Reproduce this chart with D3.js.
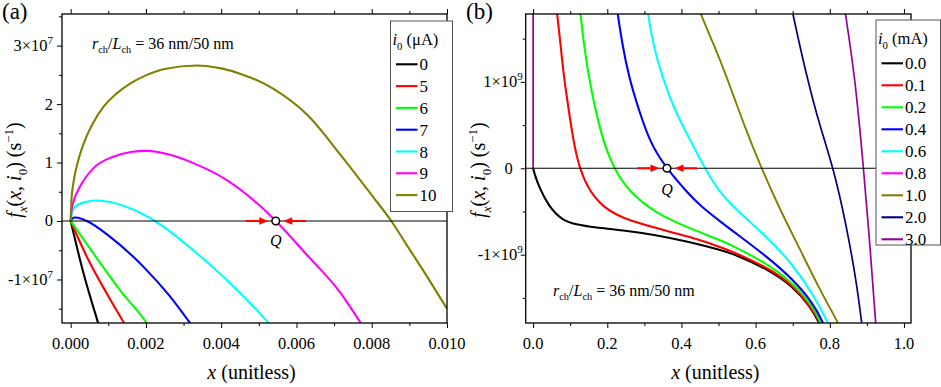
<!DOCTYPE html>
<html>
<head>
<meta charset="utf-8">
<script src="https://cdn.jsdelivr.net/npm/d3@7"></script>
</head>
<body style="margin:0">
<div id="chart"></div>
<script>

// ---- panel (a): x (unitless) vs f_x in units of 1e7 s^-1 ----
const labelsA = ["0", "5", "6", "7", "8", "9", "10"];
const colorsA = ["#000000", "#ff0000", "#00ff00", "#0000ff", "#00ffff", "#ff00ff", "#808000"];

const curveA0  = [[0, 0], [0.00034, -0.89], [0.00073, -1.744], [0.00077, -1.83]];
const curveA5  = [[0, 0], [0.00043, -0.61], [0.00096, -1.24], [0.00142, -1.744], [0.0015, -1.83]];
const curveA6  = [[0, 0], [0.0006, -0.55], [0.00131, -1.18], [0.00202, -1.744], [0.0021, -1.82]];
const curveA7  = [[0, 0], [0.00004, 0.04], [0.00011, 0.06], [0.0002, 0.055], [0.00043, 0], [0.00105, -0.27],
                  [0.00193, -0.78], [0.00264, -1.29], [0.00317, -1.744], [0.0033, -1.86]];
const curveA8  = [[0, 0], [0.00003, 0.13], [0.00011, 0.24], [0.00043, 0.33], [0.00069, 0.35], [0.00149, 0.24],
                  [0.00224, 0], [0.00326, -0.5], [0.00415, -1.01], [0.00503, -1.58], [0.0053, -1.77]];
const curveA9  = [[0, 0], [0.00002, 0.17], [0.00008, 0.34], [0.00025, 0.59], [0.0006, 0.9], [0.00113, 1.10],
                  [0.0016, 1.18], [0.00202, 1.20], [0.0026, 1.14], [0.00326, 0.99], [0.00415, 0.70],
                  [0.00503, 0.26], [0.00545, 0], [0.00628, -0.58], [0.00716, -1.22], [0.00771, -1.744], [0.0078, -1.83]];
const curveA10 = [[0, 0], [0.00002, 0.35], [0.00008, 0.68], [0.0002, 1.03], [0.00038, 1.38], [0.0006, 1.68],
                  [0.00087, 1.95], [0.0012, 2.17], [0.00158, 2.35], [0.002, 2.49], [0.0025, 2.6], [0.00335, 2.66],
                  [0.004, 2.61], [0.0045, 2.52], [0.00539, 2.26], [0.00628, 1.82], [0.00716, 1.14],
                  [0.00805, 0.4], [0.00852, 0], [0.00894, -0.42], [0.00947, -0.95], [0.0100, -1.5]];
const curvesA = [curveA0, curveA5, curveA6, curveA7, curveA8, curveA9, curveA10];

const xTicksA = [0, 0.002, 0.004, 0.006, 0.008, 0.010];
const xMinorA = [0.001, 0.003, 0.005, 0.007, 0.009];
const yTicksA = [-1, 0, 1, 2, 3];
const yTickLabelsA = [["-1×10", "7"], ["0", ""], ["1", ""], ["2", ""], ["3×10", "7"]];
const yMinorA = [-1.5, -0.5, 0.5, 1.5, 2.5, 3.5];
const pointQA = [0.00545, 0];

// ---- panel (b): x (unitless) vs f_x in units of 1e9 s^-1 ----
const labelsB = ["0.0", "0.1", "0.2", "0.4", "0.6", "0.8", "1.0", "2.0", "3.0"];
const colorsB = ["#000000", "#ff0000", "#00ff00", "#0000ff", "#00ffff", "#ff00ff", "#808000", "#000080", "#990099"];

const curveB00 = [[0, 0], [0.005, -0.08], [0.0153, -0.21], [0.042, -0.44], [0.078, -0.60], [0.114, -0.65],
                  [0.168, -0.685], [0.24, -0.715], [0.33, -0.77], [0.42, -0.85], [0.509, -0.95], [0.54, -0.99],
                  [0.63, -1.16], [0.702, -1.37], [0.747, -1.60], [0.772, -1.79], [0.775, -1.85]];
const curveB01 = [[0.063, 1.85], [0.0647, 1.79], [0.0737, 1.445], [0.0827, 1.06], [0.096, 0.674], [0.1096, 0.289],
                  [0.125, 0], [0.15, -0.25], [0.186, -0.44], [0.24, -0.58], [0.33, -0.69], [0.42, -0.79],
                  [0.509, -0.91], [0.63, -1.14], [0.70, -1.35], [0.745, -1.58], [0.775, -1.79], [0.778, -1.85]];
const curveB02 = [[0.126, 1.85], [0.1276, 1.79], [0.1366, 1.445], [0.15, 1.06], [0.168, 0.674], [0.1905, 0.289],
                  [0.2175, 0], [0.258, -0.27], [0.33, -0.52], [0.42, -0.69], [0.509, -0.84], [0.54, -0.90],
                  [0.63, -1.10], [0.702, -1.33], [0.755, -1.60], [0.776, -1.79], [0.779, -1.85]];
const curveB04 = [[0.226, 1.85], [0.228, 1.79], [0.24, 1.445], [0.258, 1.06], [0.285, 0.674], [0.316, 0.289],
                  [0.359, 0], [0.42, -0.30], [0.45, -0.43], [0.509, -0.63], [0.54, -0.73], [0.63, -1.02],
                  [0.702, -1.29], [0.755, -1.56], [0.7825, -1.79], [0.786, -1.85]];
const curveB06 = [[0.308, 1.85], [0.310, 1.79], [0.3226, 1.445], [0.348, 1.06], [0.381, 0.674], [0.428, 0.289],
                  [0.45, 0.11], [0.4636, 0], [0.495, -0.23], [0.54, -0.45], [0.63, -0.79], [0.702, -1.12],
                  [0.755, -1.46], [0.796, -1.79], [0.80, -1.85]];
const curveB08 = [];
const curveB10 = [[0.448, 1.85], [0.451, 1.79], [0.486, 1.445], [0.522, 1.06], [0.567, 0.52], [0.6155, 0],
                  [0.666, -0.48], [0.72, -0.94], [0.7736, -1.41], [0.823, -1.79], [0.827, -1.85]];
const curveB20 = [[0.698, 1.85], [0.700, 1.79], [0.7377, 1.06], [0.7736, 0.48], [0.810, 0], [0.8455, -0.675],
                  [0.8725, -1.33], [0.886, -1.79], [0.888, -1.85]];
const curveB30 = [[0, 1.85], [0, 0], null,
                  [0.840, 1.85], [0.842, 1.79], [0.868, 1.06], [0.891, 0], [0.908, -0.87], [0.9237, -1.79], [0.925, -1.85]];
const curvesB = [curveB00, curveB01, curveB02, curveB04, curveB06, curveB08, curveB10, curveB20, curveB30];

const xTicksB = [0, 0.2, 0.4, 0.6, 0.8, 1.0];
const xMinorB = [0.1, 0.3, 0.5, 0.7, 0.9];
const yTicksB = [-1, 0, 1];
const yTickLabelsB = [["-1×10", "9"], ["0", ""], ["1×10", "9"]];
const yMinorB = [-1.5, -0.5, 0.5, 1.5];
const pointQB = [0.361, 0];

const FONT = '"Liberation Serif"';

const svg = d3.select("#chart").append("svg")
    .attr("width", 941)
    .attr("height", 387);

// every text goes straight onto the svg root, with its face set inline
function addText(x, y, size) {
    return svg.append("text")
        .attr("x", x).attr("y", y)
        .attr("font-size", size)
        .style("font-family", FONT, "important")
        .style("fill", "#000");
}

// small helper for italic / sub / superscript pieces inside one text element
function richText(sel, parts, size) {
    let shift = 0;
    parts.forEach(([t, k]) => {
        let target = 0;
        if (k === "sub" || k === "isub") target = size * 0.28;
        if (k === "sup") target = -size * 0.42;
        const ts = sel.append("tspan").text(t).attr("dy", target - shift);
        shift = target;
        if (k === "i" || k === "isub") ts.attr("font-style", "italic");
        if (k !== "" && k !== "i") ts.attr("font-size", size * 0.65);
    });
}

function drawPanel(cfg) {
    const g = svg.append("g");

    const x = d3.scaleLinear().domain(cfg.xDomain).range([cfg.left, cfg.right]);
    const y = d3.scaleLinear().domain(cfg.yDomain).range([cfg.bottom, cfg.top]);

    g.append("clipPath").attr("id", cfg.id + "-clip")
        .append("rect")
        .attr("x", cfg.left).attr("y", cfg.top)
        .attr("width", cfg.right - cfg.left).attr("height", cfg.bottom - cfg.top);

    // ---- axes: tick marks from d3, labels placed with the same scales ----
    const clean = s => s.call(a => a.select(".domain").remove());
    const bottomMajor = d3.axisBottom(x).tickValues(cfg.xTicks).tickSize(5).tickFormat("");
    const leftMajor = d3.axisLeft(y).tickValues(cfg.yTicks).tickSize(5).tickFormat("");

    g.append("g").attr("transform", `translate(0,${cfg.bottom})`)
        .call(d3.axisBottom(x).tickValues(cfg.xMinor).tickSize(3).tickFormat("")).call(clean);
    g.append("g").attr("transform", `translate(0,${cfg.bottom})`)
        .call(bottomMajor).call(clean);
    g.append("g").attr("transform", `translate(0,${cfg.top})`)
        .call(d3.axisTop(x).tickValues(cfg.xMinor).tickSize(3).tickFormat("")).call(clean);
    g.append("g").attr("transform", `translate(0,${cfg.top})`)
        .call(d3.axisTop(x).tickValues(cfg.xTicks).tickSize(5).tickFormat("")).call(clean);
    g.append("g").attr("transform", `translate(${cfg.left},0)`)
        .call(d3.axisLeft(y).tickValues(cfg.yMinor).tickSize(3).tickFormat("")).call(clean);
    g.append("g").attr("transform", `translate(${cfg.left},0)`)
        .call(leftMajor).call(clean);
    g.selectAll(".tick text").remove();

    cfg.xTicks.forEach(v => {
        addText(x(v), cfg.bottom + 26, 16.5)
            .attr("text-anchor", "middle")
            .text(cfg.xFormat(v));
    });
    cfg.yTicks.forEach((v, i) => {
        const lab = cfg.yTickLabels[i];
        const t = addText(cfg.left + (lab[1] ? cfg.supLabelX : cfg.plainLabelX), y(v), 16.5)
            .attr("text-anchor", "end").attr("dy", "0.33em");
        t.append("tspan").text(lab[0]);
        if (lab[1]) t.append("tspan").text(lab[1]).attr("font-size", 11).attr("dy", -7);
    });

    // ---- curves ----
    const line = d3.line()
        .defined(d => d !== null)
        .x(d => x(d[0]))
        .y(d => y(d[1]))
        .curve(cfg.curve);

    g.append("g").attr("clip-path", `url(#${cfg.id}-clip)`)
        .selectAll("path")
        .data(cfg.curves)
        .join("path")
        .attr("d", d => d.length ? line(d) : null)
        .attr("fill", "none")
        .attr("stroke", (d, i) => cfg.colors[i])
        .attr("stroke-width", (d, i) => cfg.widths ? cfg.widths[i] : 2.1);

    // zero line + frame
    g.append("line")
        .attr("x1", cfg.left).attr("x2", cfg.right)
        .attr("y1", y(0)).attr("y2", y(0))
        .attr("stroke", "#000").attr("stroke-width", 1.1);
    g.append("rect")
        .attr("x", cfg.left).attr("y", cfg.top)
        .attr("width", cfg.right - cfg.left).attr("height", cfg.bottom - cfg.top)
        .attr("fill", "none").attr("stroke", "#000").attr("stroke-width", 1.3);

    // ---- fixed point Q with arrows ----
    const qx = x(cfg.q[0]), qy = y(cfg.q[1]);
    [-1, 1].forEach(s => {
        const x0 = qx + s * 30, tip = qx + s * 7.5;
        g.append("line")
            .attr("x1", x0).attr("x2", tip + s * 6).attr("y1", qy).attr("y2", qy)
            .attr("stroke", "#ff0000").attr("stroke-width", 2);
        g.append("path")
            .attr("d", `M${tip},${qy} L${tip + s * 9},${qy - 3.8} L${tip + s * 9},${qy + 3.8} Z`)
            .attr("fill", "#ff0000");
    });
    g.append("circle").attr("cx", qx).attr("cy", qy).attr("r", 3.8)
        .attr("fill", "#fff").attr("stroke", "#000").attr("stroke-width", 1.5);
    addText(qx, qy + cfg.qLabelDy, 16)
        .attr("text-anchor", "middle").attr("font-style", "italic")
        .text("Q");

    // ---- legend ----
    const L = cfg.legend;
    svg.append("rect")
        .attr("x", L.x).attr("y", L.y)
        .attr("width", L.w).attr("height", L.h)
        .attr("fill", "#fff").attr("stroke", "#555").attr("stroke-width", 1);
    richText(addText(L.x + 2, L.y + 24, 16.5),
        [["i", "i"], ["0", "sub"], [" (" + cfg.unit + ")", ""]], 16.5);
    cfg.labels.forEach((lab, i) => {
        const cy = L.y + L.first + i * L.step;
        svg.append("line")
            .attr("x1", L.x + 5.5).attr("x2", L.x + 27)
            .attr("y1", cy).attr("y2", cy)
            .attr("stroke", cfg.colors[i]).attr("stroke-width", 2.1);
        addText(L.x + 29, cy + 6, 17).text(lab);
    });

    // ---- titles ----
    richText(addText(0, 0, 20)
        .attr("text-anchor", "middle")
        .attr("transform", `translate(${cfg.yTitleX},170) rotate(-90)`),
        [["f", "i"], ["x", "isub"], ["(", ""], ["x", "i"], [", ", ""], ["i", "i"], ["0", "sub"],
         [") (s", ""], ["−1", "sup"], [")", ""]], 20);

    const xt = addText((cfg.left + cfg.right) / 2 - 3, 379, 20).attr("text-anchor", "middle");
    xt.append("tspan").attr("font-style", "italic").text("x");
    xt.append("tspan").text(" (unitless)");

    richText(addText(cfg.note[0], cfg.note[1], 16),
        [["r", "i"], ["ch", "sub"], ["/", ""], ["L", "i"], ["ch", "sub"], [" = 36 nm/50 nm", ""]], 16);

    addText(cfg.tag[0], 19, 23).text(cfg.tag[1]);
}

drawPanel({
    id: "pa",
    left: 62, right: 447, top: 14, bottom: 323,
    xDomain: [-0.00023, 0.0100], yDomain: [-1.744, 3.54],
    xTicks: xTicksA, xMinor: xMinorA, xFormat: d3.format(".3f"),
    yTicks: yTicksA, yMinor: yMinorA, yTickLabels: yTickLabelsA,
    supLabelX: -9, plainLabelX: -9,
    curves: curvesA, colors: colorsA, labels: labelsA, unit: "μA",
    curve: d3.curveMonotoneX,
    q: pointQA, qLabelDy: 25,
    legend: {x: 390.5, y: 21, w: 62, h: 190.5, first: 43.3, step: 21.8},
    yTitleX: 21, note: [92, 49], tag: [2, "(a)"]
});

drawPanel({
    id: "pb",
    left: 525.7, right: 911, top: 14, bottom: 323,
    xDomain: [-0.02, 1.019], yDomain: [-1.79, 1.785],
    xTicks: xTicksB, xMinor: xMinorB, xFormat: d3.format(".1f"),
    yTicks: yTicksB, yMinor: yMinorB, yTickLabels: yTickLabelsB,
    supLabelX: -3, plainLabelX: -13,
    curves: curvesB, colors: colorsB, labels: labelsB, unit: "mA",
    curve: d3.curveBasis,
    widths: [2.1, 2.1, 2.1, 2.1, 2.1, 2.1, 1.9, 1.7, 1.7],
    q: pointQB, qLabelDy: 27,
    legend: {x: 876, y: 20, w: 64.5, h: 225, first: 43.3, step: 22},
    yTitleX: 485, note: [553, 296], tag: [466, "(b)"]
});

</script>
</body>
</html>
